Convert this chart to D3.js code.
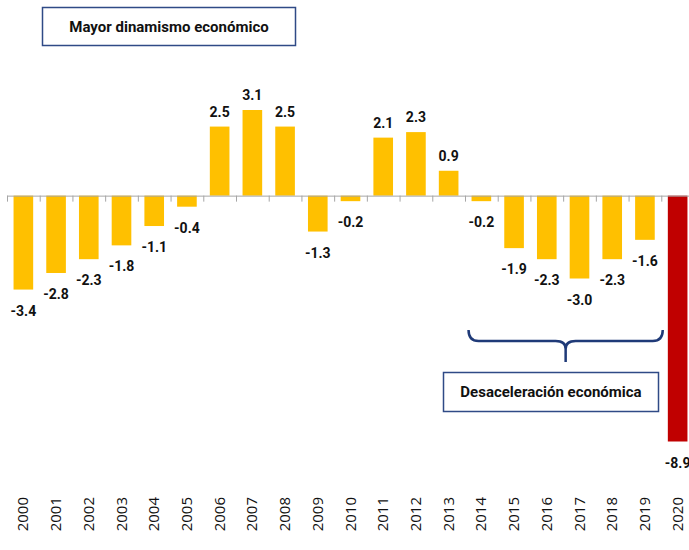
<!DOCTYPE html>
<html>
<head>
<meta charset="utf-8">
<script src="https://cdn.jsdelivr.net/npm/d3@7"></script>
<style>
  body { margin: 0; background: #fff; }
  svg { display: block; }
  .val { font-family: Roboto, 'DejaVu Sans', sans-serif; font-weight: 700; font-size: 14px; fill: #111; }
  .yr { font-family: 'Open Sans', 'DejaVu Sans', sans-serif; font-size: 15px; fill: #111; }
  .note { font-family: Roboto, 'DejaVu Sans', sans-serif; font-weight: 700; font-size: 15px; fill: #111; }
</style>
</head>
<body>
<div id="chart"></div>
<script>
// data
const years = ['2000', '2001', '2002', '2003', '2004', '2005', '2006', '2007', '2008', '2009', '2010',
  '2011', '2012', '2013', '2014', '2015', '2016', '2017', '2018', '2019', '2020']
const values = [-3.4, -2.8, -2.3, -1.8, -1.1, -0.4, 2.5, 3.1, 2.5, -1.3, -0.2,
  2.1, 2.3, 0.9, -0.2, -1.9, -2.3, -3.0, -2.3, -1.6, -8.9]
const topNote = 'Mayor dinamismo económico'
const bottomNote = 'Desaceleración económica'

const width = 689
const height = 550

const svg = d3.select('#chart').append('svg')
  .attr('width', width)
  .attr('height', height)

// scales
const x = d3.scaleBand()
  .domain(years)
  .range([7, 694])
  .paddingInner(0.4)
  .paddingOuter(0.2)

const y = d3.scaleLinear()
  .domain([-8.9, 3.1])
  .range([441.5, 110])

const data = years.map((yr, i) => ({ year: yr, value: values[i] }))

// bars
svg.append('g').selectAll('rect')
  .data(data)
  .enter().append('rect')
  .attr('x', d => x(d.year))
  .attr('width', x.bandwidth())
  .attr('y', d => y(Math.max(0, d.value)))
  .attr('height', d => Math.abs(y(d.value) - y(0)))
  .attr('fill', d => d.year === '2020' ? '#C00000' : '#FFC000')

// zero axis with ticks between bands
const step = x.step()
const axis = svg.append('g').attr('stroke', '#A6A6A6').attr('stroke-width', 1)
axis.append('line')
  .attr('x1', x.range()[0]).attr('x2', width)
  .attr('y1', y(0) + 0.5).attr('y2', y(0) + 0.5)
axis.selectAll('.tk')
  .data(years)
  .enter().append('line')
  .attr('class', 'tk')
  .attr('x1', d => x(d) - x.paddingInner() * step / 2 + 0.5)
  .attr('x2', d => x(d) - x.paddingInner() * step / 2 + 0.5)
  .attr('y1', y(0))
  .attr('y2', y(0) + 6)

// value labels
svg.append('g').selectAll('text')
  .data(data)
  .enter().append('text')
  .attr('class', 'val')
  .attr('x', d => x(d.year) + x.bandwidth() / 2)
  .attr('y', d => d.value >= 0 ? y(d.value) - 10 : y(d.value) + 26)
  .attr('text-anchor', 'middle')
  .text(d => d.value.toFixed(1))

// year labels
svg.append('g').selectAll('text')
  .data(years)
  .enter().append('text')
  .attr('class', 'yr')
  .attr('transform', d => 'translate(' + (x(d) + x.bandwidth() / 2 + 5) + ',497) rotate(-90)')
  .attr('text-anchor', 'end')
  .text(d => d)

// top note box
const g1 = svg.append('g')
g1.append('rect')
  .attr('x', 42.5).attr('y', 7.5)
  .attr('width', 253).attr('height', 38)
  .attr('fill', '#fff')
  .attr('stroke', '#2F4A86').attr('stroke-width', 1.5)
g1.append('text')
  .attr('class', 'note')
  .attr('x', 42.5 + 253 / 2).attr('y', 32)
  .attr('text-anchor', 'middle')
  .text(topNote)

// brace over 2014-2019
const bx1 = x('2014') - 3
const bx2 = x('2019') + x.bandwidth() + 8
const bmid = (bx1 + bx2) / 2
const btop = 330
const bline = 341
const btip = 362
svg.append('path')
  .attr('d', 'M' + bx1 + ',' + btop +
    ' Q' + bx1 + ',' + bline + ' ' + (bx1 + 10) + ',' + bline +
    ' L' + (bmid - 10) + ',' + bline +
    ' Q' + bmid + ',' + bline + ' ' + bmid + ',' + (bline + 8) +
    ' L' + bmid + ',' + btip +
    ' M' + bmid + ',' + (bline + 8) +
    ' Q' + bmid + ',' + bline + ' ' + (bmid + 10) + ',' + bline +
    ' L' + (bx2 - 10) + ',' + bline +
    ' Q' + bx2 + ',' + bline + ' ' + bx2 + ',' + btop)
  .attr('fill', 'none')
  .attr('stroke', '#1F3A78')
  .attr('stroke-width', 2.5)

// bottom note box
const g2 = svg.append('g')
g2.append('rect')
  .attr('x', 443.5).attr('y', 372.5)
  .attr('width', 215).attr('height', 39)
  .attr('fill', '#fff')
  .attr('stroke', '#2F4A86').attr('stroke-width', 1.5)
g2.append('text')
  .attr('class', 'note')
  .attr('x', 443.5 + 215 / 2).attr('y', 397)
  .attr('text-anchor', 'middle')
  .text(bottomNote)
</script>
</body>
</html>
